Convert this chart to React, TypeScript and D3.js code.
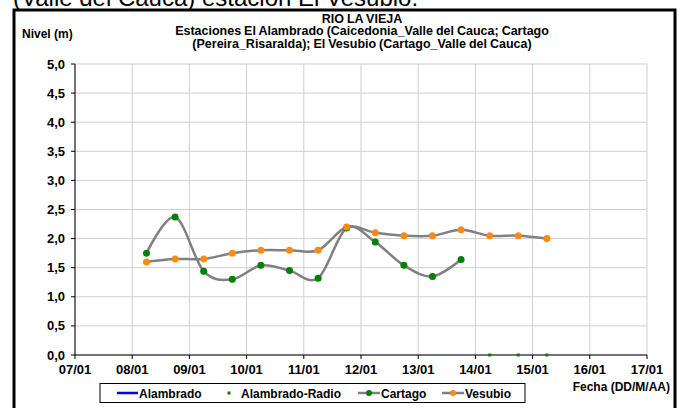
import React from "react";
import * as d3 from "d3";

const W = 679;
const H = 408;

const xTickLabels = ["07/01", "08/01", "09/01", "10/01", "11/01", "12/01", "13/01", "14/01", "15/01", "16/01", "17/01"];
const yTickValues = [0, 0.5, 1, 1.5, 2, 2.5, 3, 3.5, 4, 4.5, 5];

const cartagoTimes = [
  "2011-01-08T06:00", "2011-01-08T18:00", "2011-01-09T06:00", "2011-01-09T18:00",
  "2011-01-10T06:00", "2011-01-10T18:00", "2011-01-11T06:00", "2011-01-11T18:00",
  "2011-01-12T06:00", "2011-01-12T18:00", "2011-01-13T06:00", "2011-01-13T18:00",
];
const cartagoValues = [1.75, 2.37, 1.44, 1.3, 1.54, 1.45, 1.32, 2.18, 1.94, 1.54, 1.35, 1.64];

const vesubioTimes = [
  "2011-01-08T06:00", "2011-01-08T18:00", "2011-01-09T06:00", "2011-01-09T18:00",
  "2011-01-10T06:00", "2011-01-10T18:00", "2011-01-11T06:00", "2011-01-11T18:00",
  "2011-01-12T06:00", "2011-01-12T18:00", "2011-01-13T06:00", "2011-01-13T18:00",
  "2011-01-14T06:00", "2011-01-14T18:00", "2011-01-15T06:00",
];
const vesubioValues = [1.6, 1.65, 1.65, 1.75, 1.8, 1.8, 1.8, 2.2, 2.1, 2.05, 2.05, 2.15, 2.05, 2.05, 2.0];

const radioTimes = ["2011-01-14T06:00", "2011-01-14T18:00", "2011-01-15T06:00"];
const radioValues = [0, 0, 0];

const titleLines = [
  "RIO LA VIEJA",
  "Estaciones El Alambrado (Caicedonia_Valle del Cauca; Cartago",
  "(Pereira_Risaralda);  El Vesubio (Cartago_Valle del Cauca)",
];

const FONT = "'Liberation Sans', Arial, sans-serif";
const GREEN = "#008000";
const ORANGE = "#FF8A12";
const LINE_GREY = "#808080";

export default function App() {
  const left = 75, right = 647, top = 64, bottom = 355;
  const x = d3.scaleTime()
    .domain([new Date(2011, 0, 7), new Date(2011, 0, 17)])
    .range([left, right]);
  const y = d3.scaleLinear().domain([0, 5]).range([bottom, top]);
  const xTicks = xTickLabels.map((_, i) => new Date(2011, 0, 7 + i));
  const parse = (s: string) => new Date(s);

  const line = d3.line<[Date, number]>()
    .x((d) => x(d[0]))
    .y((d) => y(d[1]))
    .curve(d3.curveCardinal.tension(0));

  const cart: [Date, number][] = cartagoTimes.map((t, i) => [parse(t), cartagoValues[i]]);
  const ves: [Date, number][] = vesubioTimes.map((t, i) => [parse(t), vesubioValues[i]]);
  const rad: [Date, number][] = radioTimes.map((t, i) => [parse(t), radioValues[i]]);

  return (
    <svg
      width={W}
      height={H}
      style={{ position: "absolute", left: 0, top: 0, background: "#fff" }}
      fontFamily={FONT}
    >
      <rect x={0} y={0} width={W} height={H} fill="#fff" />
      <text x={13} y={6} fontSize={24} fill="#000">(Valle del Cauca) estación El Vesubio.</text>
      <rect x={14} y={10} width={661} height={420} fill="#fff" stroke="#000" strokeWidth={3} />

      {/* grid */}
      {yTickValues.map((v) => (
        <line key={"gy" + v} x1={left} x2={right} y1={y(v)} y2={y(v)} stroke="#cfcfcf" strokeWidth={1} />
      ))}
      {xTicks.map((d, i) => (
        <line key={"gx" + i} x1={x(d)} x2={x(d)} y1={top} y2={bottom} stroke="#cfcfcf" strokeWidth={1} />
      ))}

      {/* axes */}
      <line x1={left} x2={left} y1={top} y2={bottom} stroke="#000" strokeWidth={1} />
      <line x1={left} x2={right} y1={bottom} y2={bottom} stroke="#000" strokeWidth={1} />
      {yTickValues.map((v) => (
        <g key={"ty" + v}>
          <line x1={left - 4} x2={left} y1={y(v)} y2={y(v)} stroke="#000" />
          <text x={left - 10} y={y(v) + 4.5} fontSize={13} fontWeight="bold" textAnchor="end">
            {d3.format(".1f")(v).replace(".", ",")}
          </text>
        </g>
      ))}
      {xTicks.map((d, i) => (
        <g key={"tx" + i}>
          <line x1={x(d)} x2={x(d)} y1={bottom} y2={bottom + 4} stroke="#000" />
          <text x={x(d)} y={bottom + 19} fontSize={13} fontWeight="bold" textAnchor="middle">
            {xTickLabels[i]}
          </text>
        </g>
      ))}

      {/* series */}
      <path d={line(cart) || ""} fill="none" stroke={LINE_GREY} strokeWidth={2.5} />
      <path d={line(ves) || ""} fill="none" stroke={LINE_GREY} strokeWidth={2.5} />
      {cart.map((d, i) => (
        <circle key={"c" + i} cx={x(d[0])} cy={y(d[1])} r={3.5} fill={GREEN} />
      ))}
      {ves.map((d, i) => (
        <circle key={"v" + i} cx={x(d[0])} cy={y(d[1])} r={3.5} fill={ORANGE} />
      ))}
      {rad.map((d, i) => (
        <rect key={"r" + i} x={x(d[0]) - 1.5} y={y(d[1]) - 1.5} width={3} height={3} fill={GREEN} />
      ))}

      {/* titles */}
      {titleLines.map((t, i) => (
        <text key={"t" + i} x={362} y={22.5 + i * 12.8} fontSize={12.5} fontWeight="bold" textAnchor="middle" wordSpacing={-0.5}>
          {t}
        </text>
      ))}
      <text x={22} y={38} fontSize={12} fontWeight="bold">Nivel (m)</text>
      <text x={670} y={391} fontSize={12} fontWeight="bold" textAnchor="end">Fecha (DD/M/AA)</text>

      {/* legend */}
      <rect x={100} y={383.5} width={425} height={19} fill="#fff" stroke="#000" strokeWidth={1} />
      <line x1={117} x2={138} y1={393} y2={393} stroke="#0000FF" strokeWidth={2.5} />
      <text x={139} y={397.5} fontSize={12} fontWeight="bold">Alambrado</text>
      <rect x={227.5} y={391.5} width={3} height={3} fill={GREEN} />
      <text x={241} y={397.5} fontSize={12} fontWeight="bold">Alambrado-Radio</text>
      <line x1={358} x2={380} y1={393} y2={393} stroke={LINE_GREY} strokeWidth={2.5} />
      <circle cx={369} cy={393} r={3} fill={GREEN} />
      <text x={381} y={397.5} fontSize={12} fontWeight="bold">Cartago</text>
      <line x1={442} x2={464} y1={393} y2={393} stroke={LINE_GREY} strokeWidth={2.5} />
      <circle cx={453} cy={393} r={3} fill={ORANGE} />
      <text x={465} y={397.5} fontSize={12} fontWeight="bold">Vesubio</text>
    </svg>
  );
}
